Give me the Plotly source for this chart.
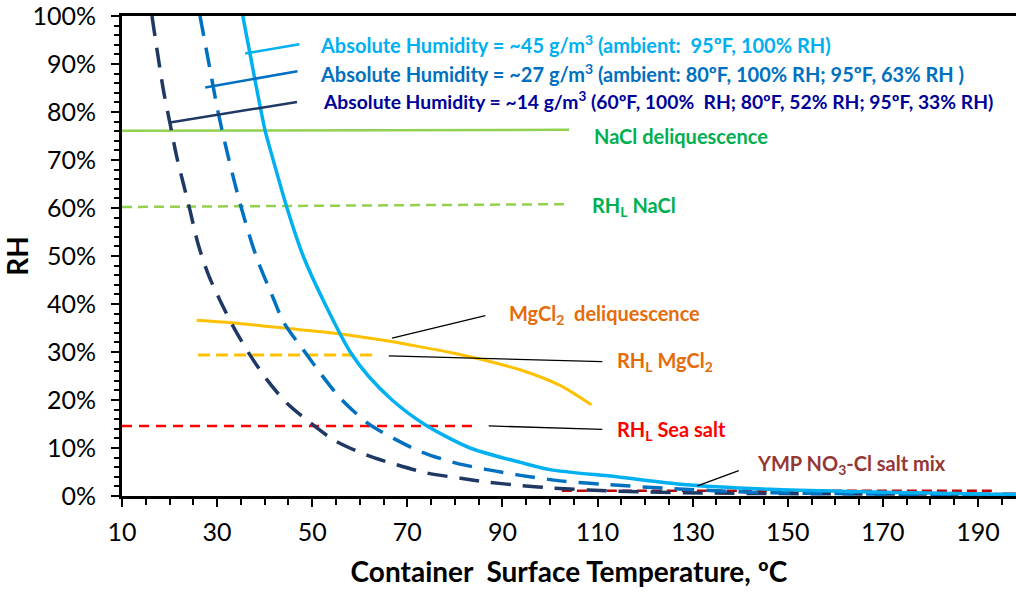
import plotly.graph_objects as go

# ---- data ----
ah45_x = [35.4, 36.9, 40.1, 41.2, 44.7, 48.1, 52.7, 58.0, 61.8, 66.8, 73.5, 83.2, 93.8, 100.0, 114.0, 128.0, 146.3, 165, 180, 198]
ah45_y = [100, 92.2, 76.1, 72.1, 60.0, 50.0, 40.0, 30.0, 25.0, 20.0, 15.0, 10.0, 7.0, 5.5, 4.0, 2.4, 1.4, 0.9, 0.6, 0.25]

ah27_x = [26.4, 28.3, 30.2, 32.5, 35.1, 38.2, 41.9, 44.0, 48.9, 51.7, 55.9, 61.5, 67.1, 72.7, 79.7, 86.8, 93.8, 102.8, 111.9, 124.5, 142.1, 160, 180, 198]
ah27_y = [100, 90, 80, 70, 60, 50, 41, 36.2, 29.4, 25.6, 20.4, 15.3, 12.0, 9.3, 7.0, 5.5, 4.3, 3.1, 2.4, 1.6, 0.8, 0.5, 0.35, 0.3]

ah14_x = [16.3, 18.7, 20.1, 21.5, 22.9, 24.3, 26.0, 28.2, 30.6, 33.4, 36.9, 40.5, 44.7, 48.9, 54.5, 61.5, 67.8, 74.1, 81.2, 86.8, 93.8, 100.0, 114.0, 135.0, 160, 180, 198]
ah14_y = [100, 84.6, 77.6, 70.7, 65.1, 59.5, 52.5, 46.0, 40.8, 35.3, 29.4, 24.2, 19.3, 15.8, 11.7, 8.5, 6.5, 4.8, 3.7, 2.9, 2.2, 1.7, 1.0, 0.6, 0.45, 0.4, 0.35]

mgcl2_x = [25.7, 33, 42, 52, 60, 66, 71, 79, 85, 94, 102, 108.7]
mgcl2_y = [36.6, 36.1, 35.2, 34.2, 33.2, 32.3, 31.4, 29.9, 28.6, 26.2, 23.1, 19.0]

nacl_del_x = [10, 104]
nacl_del_y = [76.1, 76.3]
nacl_rhl_x = [10, 104]
nacl_rhl_y = [60.2, 60.8]
mgcl2_rhl_x = [26, 63.5]
mgcl2_rhl_y = [29.4, 29.4]
seasalt_rhl_x = [10, 84.7]
seasalt_rhl_y = [14.6, 14.6]
ymp_x = [102.5, 194]
ymp_y = [1.1, 1.1]

# leader lines: (x0, y0, x1, y1, color, width)
leaders = [
    (35.9, 92.2, 47.3, 94.1, "#00B0F0", 2.5),
    (27.5, 85.1, 46.9, 88.5, "#0070C0", 2.5),
    (20.1, 77.8, 46.8, 82.1, "#1F3864", 2.5),
    (66.8, 32.9, 86.4, 37.6, "black", 1.3),
    (66.1, 29.2, 111.0, 28.0, "black", 1.3),
    (87.1, 14.6, 111.0, 13.9, "black", 1.3),
    (131.0, 2.1, 139.7, 5.3, "black", 1.3),
]

labels = [
    ("Absolute Humidity = ~45 g/m<sup>3</sup> (ambient:  95ºF, 100% RH)", 51.3, 94.2, "#00B0F0", 20),
    ("Absolute Humidity = ~27 g/m<sup>3</sup> (ambient: 80ºF, 100% RH; 95ºF, 63% RH )", 51.3, 88.2, "#0070C0", 20),
    ("Absolute Humidity = ~14 g/m<sup>3</sup> (60ºF, 100%  RH; 80ºF, 52% RH; 95ºF, 33% RH)", 51.8, 82.3, "#000099", 19.3),
    ("NaCl deliquescence", 108.8, 74.9, "#00B050", 20),
    ("RH<sub>L</sub> NaCl", 108.4, 60.3, "#00B050", 20),
    ("MgCl<sub>2</sub>  deliquescence", 90.9, 37.9, "#E46C0A", 20),
    ("RH<sub>L</sub> MgCl<sub>2</sub>", 113.7, 28.0, "#E46C0A", 20),
    ("RH<sub>L</sub> Sea salt", 113.7, 13.75, "#FF0000", 20),
    ("YMP NO<sub>3</sub>-Cl salt mix", 143.1, 6.5, "#953735", 20),
]

fig = go.Figure()

def add_line(x, y, color, width, dash="solid"):
    fig.add_trace(go.Scatter(x=x, y=y, mode="lines", showlegend=False,
                             line=dict(color=color, width=width, dash=dash, shape="spline", smoothing=0.8),
                             hoverinfo="skip"))

add_line(nacl_del_x, nacl_del_y, "#92D050", 2.5)
add_line(nacl_rhl_x, nacl_rhl_y, "#92D050", 2.5, "10px,6px")
add_line(mgcl2_x, mgcl2_y, "#FFC000", 3)
add_line(mgcl2_rhl_x, mgcl2_rhl_y, "#FFC000", 3, "12px,6px")
add_line(seasalt_rhl_x, seasalt_rhl_y, "#FF0000", 2.5, "10px,7px")
add_line(ymp_x, ymp_y, "#C00000", 2.5, "10px,5px")
add_line(ah14_x, ah14_y, "#1F3864", 3.5, "20px,12px")
add_line(ah27_x, ah27_y, "#0070C0", 3.5, "20px,12px")
add_line(ah45_x, ah45_y, "#00B0F0", 3.5)

for x0, y0, x1, y1, c, w in leaders:
    fig.add_trace(go.Scatter(x=[x0, x1], y=[y0, y1], mode="lines", showlegend=False,
                             line=dict(color=c, width=w), hoverinfo="skip"))

for txt, x, y, c, s in labels:
    fig.add_annotation(x=x, y=y, text="<b>" + txt + "</b>", showarrow=False,
                       xanchor="left", yanchor="middle",
                       font=dict(family="Lato", size=s, color=c))

fig.update_layout(
    width=1016, height=596,
    margin=dict(l=122, r=0, t=16, b=100, autoexpand=False),
    paper_bgcolor="white", plot_bgcolor="white",
    font=dict(family="Lato", color="black"),
    showlegend=False,
)
fig.update_xaxes(
    range=[10, 198], tick0=10, dtick=20, showgrid=False, zeroline=False, automargin=False,
    showline=True, linecolor="black", linewidth=3, mirror=True,
    ticks="outside", ticklen=8, tickwidth=2, tickcolor="black",
    minor=dict(dtick=5, ticks="outside", ticklen=6, tickwidth=2, tickcolor="black", showgrid=False),
    tickfont=dict(size=25, color="black"), ticklabelstandoff=4, ticklabeloverflow="allow",
    title=dict(text="<b>Container  Surface Temperature, ºC</b>", font=dict(size=28, color="black"), standoff=18),
)
fig.update_yaxes(
    range=[0, 100], tick0=0, dtick=10, ticksuffix="%", showgrid=False, zeroline=False, automargin=False,
    showline=True, linecolor="black", linewidth=3,
    ticks="outside", ticklen=8, tickwidth=2, tickcolor="black",
    minor=dict(dtick=2, ticks="outside", ticklen=5, tickwidth=2, tickcolor="black", showgrid=False),
    tickfont=dict(size=25, color="black"), ticklabelstandoff=10, ticklabeloverflow="allow",
    title=dict(text="<b>RH</b>", font=dict(size=28, color="black"), standoff=14),
)

fig.write_html("out.html", config={"displayModeBar": False},
               post_script="document.body.style.margin='0';document.body.style.overflow='hidden';")
